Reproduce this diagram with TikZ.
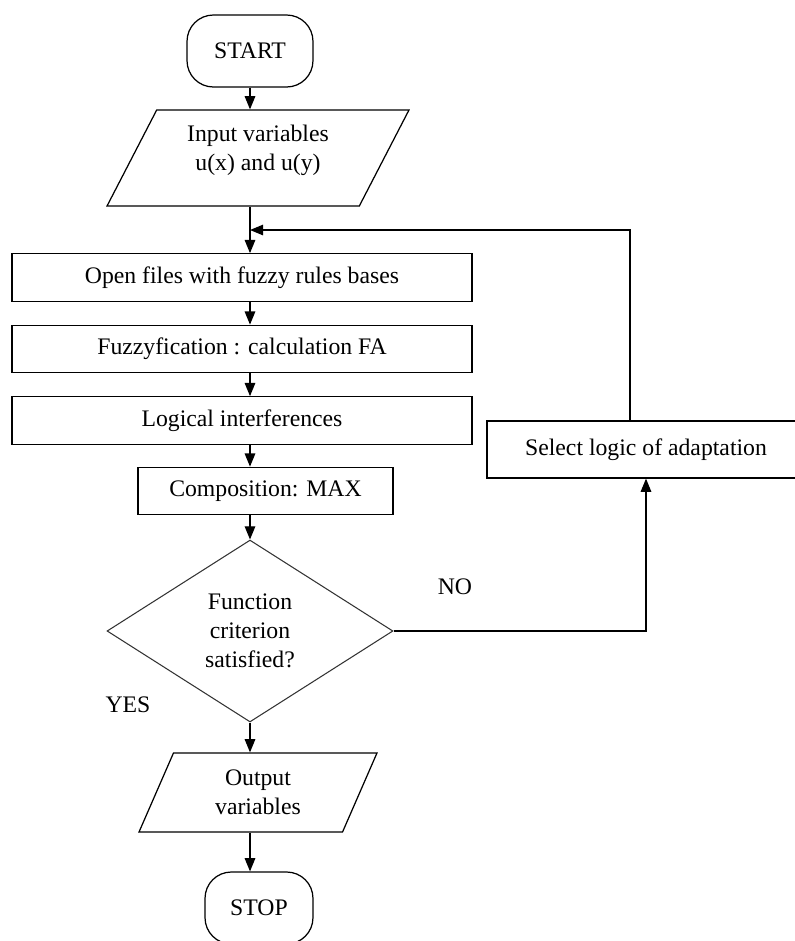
\documentclass[tikz,border=0pt]{standalone}
\usepackage{fontspec}
\setmainfont{Liberation Serif}
\usepackage{tikz}
\usetikzlibrary{shapes.geometric, arrows.meta}

\begin{document}
\begin{tikzpicture}[x=0.02cm, y=-0.02cm,
                    every node/.style={font=\fontsize{13.5pt}{16.5pt}\selectfont},
                    terminal/.style={rectangle, draw=black, line width=0.7pt, rounded corners=15pt, minimum width=2.52cm, minimum height=1.44cm},
                    process/.style={rectangle, draw=black, line width=0.7pt, minimum height=0.95cm},
                    io/.style={trapezium, trapezium stretches body, draw=black, line width=0.7pt, align=center},
                    decision/.style={diamond, draw=black!80, line width=0.6pt, aspect=1.5, inner sep=0pt, align=center, minimum width=5.72cm, minimum height=3.64cm},
                    link/.style={-{Triangle[length=7.5pt,width=6pt]}, line width=0.7pt}]
            \useasboundingbox (0,0) rectangle (795,941);

            % Start and input
            \node[terminal] (start) at (250,51) {START};
            \node[io, trapezium left angle=57.6, trapezium right angle=122.4, minimum width=6.04cm, minimum height=1.92cm, text depth=12pt] (input) at (258,158) {Input variables\\u(x) and u(y)};

            % Fuzzy rules processing
            \node[process, minimum width=9.2cm] (open) at (242,277.5) {Open files with fuzzy rules bases};
            \node[process, minimum width=9.2cm] (fuzzy) at (242,349) {Fuzzyfication : calculation FA};
            \node[process, minimum width=9.2cm] (logic) at (242,420.5) {Logical interferences};
            \node[process, minimum width=5.1cm] (compos) at (265.5,491) {Composition: MAX};

            % Decision
            \node[decision] (test) at (250,631) {Function\\criterion\\satisfied?};
            \node (yes) at (128,705) {YES};
            \node (no) at (455,587) {NO};

            % Adaptation loop
            \node[process, minimum width=6.36cm, minimum height=1.14cm] (select) at (646,449.5) {Select logic of adaptation};
            \coordinate (back) at (630,230);

            % Output and stop
            \node[io, trapezium left angle=58.7, trapezium right angle=121.3, minimum width=4.76cm, minimum height=1.58cm] (output) at (258,792.5) {Output\\variables};
            \node[terminal, minimum width=2.16cm] (stop) at (259,908) {STOP};

            % Connectors
            \draw[link] (start.south) -- (start |- input.north);
            \draw[link] (start |- input.south) -- (start |- open.north);
            \draw[link] (back |- select.north) -- (back) -- (start |- back);
            \draw[link] (start |- open.south) -- (start |- fuzzy.north);
            \draw[link] (start |- fuzzy.south) -- (start |- logic.north);
            \draw[link] (start |- logic.south) -- (start |- compos.north);
            \draw[link] (start |- compos.south) -- (test.north);
            \draw[link] (test.east) -| (select.south);
            \draw[link] (test.south) -- (start |- output.north);
            \draw[link] (start |- output.south) -- (start |- stop.north);
        \end{tikzpicture}
\end{document}
